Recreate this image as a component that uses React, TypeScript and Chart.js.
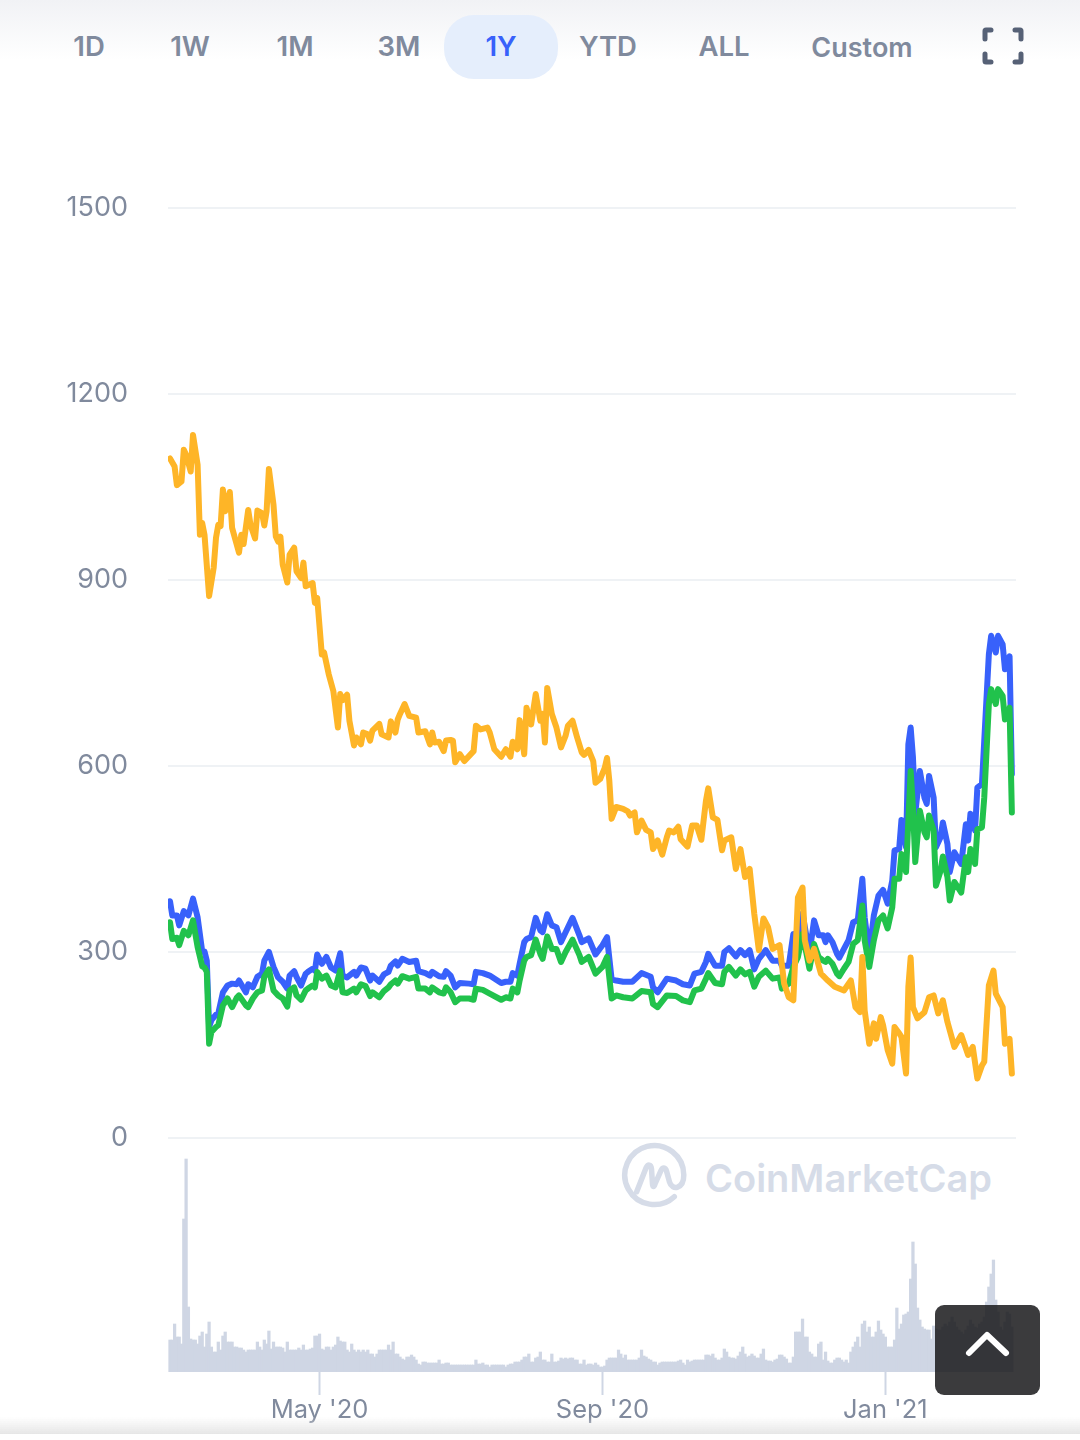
import React, { useEffect, useRef } from "react";
import { Chart, registerables } from "chart.js";

Chart.register(...registerables);

const rangeTabs = ["1D", "1W", "1M", "3M", "1Y", "YTD", "ALL", "Custom"];
const activeTab = "1Y";
const priceTicks = [0, 300, 600, 900, 1200, 1500];
const monthTickDays = [65, 188, 311];
const monthTickLabels = ["May '20", "Sep '20", "Jan '21"];

// Days since the start of the one-year window.
const orangeDays = [0,2,3,5,6,7,9,10,12,13,14,15,17,19,20,21,22,23,24,26,27,30,31,32,34,35,37,38,40,41,42,43,45,46,47,48,49,51,52,54,55,57,58,59,62,63,64,66,67,69,71,73,74,75,77,78,80,81,83,84,86,87,88,91,92,95,96,98,99,100,102,104,107,108,111,113,114,115,117,119,120,122,123,124,126,128,132,133,135,138,139,141,144,146,148,149,151,152,154,155,157,159,161,162,163,164,166,168,170,172,173,175,177,179,180,182,184,185,187,189,190,191,192,194,197,199,200,202,203,205,207,209,210,212,214,216,217,219,221,222,225,227,229,231,233,234,236,238,240,241,244,246,248,250,252,254,256,258,260,262,265,267,269,271,273,275,276,278,280,283,286,289,293,296,298,300,301,302,304,306,307,309,310,312,314,315,317,318,320,321,322,323,325,328,330,332,334,336,338,341,344,347,349,351,353,354,356,358,359,362,363,365,366];
const orangeValues = [1096,1083,1053,1059,1110,1102,1075,1134,1086,973,992,973,874,920,968,989,987,1046,1011,1042,984,944,973,958,1013,989,967,1012,1008,988,1011,1079,1021,970,962,970,925,896,941,952,914,903,928,890,895,863,871,780,783,748,721,662,716,706,715,673,633,646,635,654,651,641,657,668,651,646,672,654,675,684,700,681,678,654,656,635,654,638,639,624,641,642,641,606,619,608,624,665,659,662,654,627,615,627,615,639,627,674,619,694,667,716,673,684,638,726,684,662,630,649,665,673,646,622,618,626,608,573,579,597,613,576,515,534,531,527,520,525,493,512,497,493,466,480,457,485,496,493,502,482,470,504,504,481,544,564,517,513,464,480,485,434,466,421,434,362,303,354,340,305,311,249,227,222,388,404,319,286,305,265,254,244,238,254,211,203,292,206,152,185,160,195,182,142,120,179,169,163,104,244,291,211,193,203,227,230,201,222,187,147,166,134,147,96,117,123,246,270,233,211,152,160,104];

const pairDays = [0,1,3,4,6,8,10,12,14,15,16,17,18,20,21,23,25,27,29,30,33,34,36,38,40,41,43,45,47,49,51,52,54,55,57,59,60,62,63,64,66,68,70,72,74,75,77,80,81,83,85,87,88,91,93,95,96,98,99,101,104,107,108,111,113,114,117,119,120,122,124,126,130,132,133,136,139,144,146,148,149,151,152,154,155,157,159,161,162,164,166,168,170,172,175,178,179,182,185,188,190,192,194,197,201,205,209,210,212,216,220,223,226,228,231,233,234,237,240,241,243,246,248,250,252,254,256,259,262,265,266,269,271,273,275,278,280,282,284,285,286,288,290,291,293,295,297,299,301,302,304,306,308,310,312,314,315,317,318,320,321,322,323,324,326,328,329,330,332,333,335,336,338,339,341,344,346,347,348,350,351,353,354,356,357,359,360,362,363,365,366];
const blueValues = [382,359,359,343,366,359,386,356,301,301,286,179,190,199,201,235,246,249,248,254,235,248,243,260,265,286,300,276,259,252,241,262,269,260,246,265,268,273,270,296,281,292,275,270,298,262,259,268,262,275,273,254,262,252,264,268,278,285,278,289,284,286,269,266,262,268,261,260,269,262,243,250,249,248,268,266,262,250,252,252,266,262,281,316,321,324,355,335,332,361,343,340,316,332,355,327,316,322,296,311,324,256,254,252,252,266,260,243,235,257,254,248,246,265,268,284,297,278,278,300,306,293,303,295,303,272,289,303,286,286,278,278,329,297,362,297,351,327,327,316,327,316,297,291,305,319,348,351,418,356,297,359,391,400,378,415,464,466,513,469,635,662,614,523,592,549,539,584,549,469,485,509,474,429,461,442,506,480,523,496,565,571,641,780,810,783,810,796,756,777,587];
const greenValues = [348,321,323,311,334,327,351,308,277,275,268,152,171,179,182,214,225,211,226,230,214,211,225,235,238,260,272,238,230,225,212,238,243,230,223,238,241,246,243,268,257,262,246,243,270,235,234,241,235,248,245,229,235,227,237,243,248,254,249,261,257,260,241,241,235,243,235,233,243,235,219,225,225,223,241,239,233,223,227,225,241,235,254,286,292,295,320,297,289,325,305,305,284,300,320,295,284,292,265,276,292,225,230,227,225,237,235,216,211,230,229,222,219,238,241,257,266,250,248,268,276,262,272,264,268,244,260,270,257,259,241,249,276,292,329,273,313,292,286,284,289,281,265,261,273,284,313,319,375,319,276,319,351,359,338,372,418,418,458,429,512,592,533,445,528,493,485,520,496,407,431,454,421,383,413,396,453,429,466,442,498,501,549,700,724,700,724,713,675,694,525];

// One relative trading-volume bar per day.
const volumeValues = [32,32,48,35,35,28,153,213,65,33,32,32,28,36,40,25,38,50,25,20,20,30,22,36,40,30,30,30,25,25,24,24,22,20,22,22,22,22,30,25,22,32,28,41,23,30,25,25,25,24,20,30,22,22,22,22,24,22,27,22,22,23,24,36,36,38,23,22,25,25,22,25,27,35,31,30,30,22,20,28,22,20,22,20,22,20,22,18,18,15,18,22,22,22,22,27,22,30,18,18,15,13,12,15,15,17,15,12,8,7,10,10,9,9,9,9,9,12,8,8,9,9,7,7,7,7,7,7,7,7,7,7,7,12,8,8,9,7,7,5,7,7,7,7,7,7,5,7,8,8,10,10,10,12,15,15,18,10,10,14,15,20,12,12,10,10,18,10,10,11,14,13,14,13,14,14,12,12,8,8,12,7,8,8,7,9,7,5,5,6,12,14,14,14,14,22,18,14,17,12,12,12,12,12,14,22,16,15,13,12,10,10,7,9,10,10,10,10,10,10,10,11,12,9,7,12,10,11,12,12,12,12,12,17,17,16,18,14,12,12,14,23,20,15,14,14,13,16,20,25,18,15,16,18,16,14,14,18,23,12,11,11,10,12,13,17,17,15,13,9,9,15,40,40,40,53,35,35,20,18,15,15,28,30,12,20,11,9,9,12,14,14,12,10,12,9,20,25,30,35,25,48,51,40,45,35,35,40,51,42,38,35,25,25,25,32,64,43,48,57,58,60,93,130,108,64,52,45,43,42,42,33,46,43,42,42,45,48,46,50,55,50,45,42,40,38,42,46,52,48,45,44,48,50,55,70,85,98,112,72,60,45,42,50,60,58,45];

const series = (days: number[], values: number[]) => days.map((x, i) => ({ x, y: values[i] }));

export default function App() {
  const canvasRef = useRef<HTMLCanvasElement>(null);

  useEffect(() => {
    const lineStyle = {
      type: "line" as const,
      yAxisID: "y",
      borderWidth: 6,
      pointRadius: 0,
      tension: 0,
      borderJoinStyle: "round" as const,
      borderCapStyle: "round" as const,
      fill: false,
    };
    const chart = new Chart(canvasRef.current!, {
      type: "bar",
      data: {
        datasets: [
          { ...lineStyle, label: "Orange", data: series(orangeDays, orangeValues), borderColor: "#feb527" },
          { ...lineStyle, label: "Green", data: series(pairDays, greenValues), borderColor: "#21c24c" },
          { ...lineStyle, label: "Blue", data: series(pairDays, blueValues), borderColor: "#3861fb" },
          {
            type: "bar" as const,
            label: "Volume",
            yAxisID: "yVolume",
            data: volumeValues.map((y, x) => ({ x, y })),
            backgroundColor: "#cfd6e4",
            barThickness: 2.6,
            borderWidth: 0,
          },
        ],
      },
      options: {
        animation: false,
        responsive: false,
        maintainAspectRatio: false,
        devicePixelRatio: 1,
        layout: { padding: { top: 208, right: 64, bottom: 0, left: 0 } },
        plugins: { legend: { display: false }, tooltip: { enabled: false } },
        scales: {
          x: {
            type: "linear",
            offset: false,
            min: -0.87,
            max: 367.8,
            afterBuildTicks: (s: any) => {
              s.ticks = monthTickDays.map((value) => ({ value }));
            },
            afterFit: (s: any) => {
              s.height = 68;
            },
            grid: {
              offset: false,
              drawOnChartArea: false,
              drawTicks: true,
              tickLength: 23,
              tickColor: "#cfd6e4",
              tickWidth: 2,
            },
            border: { display: false },
            ticks: {
              autoSkip: false,
              maxRotation: 0,
              padding: 0,
              color: "#808a9d",
              font: { family: "Inter", size: 25.5 },
              callback: (v: any) => monthTickLabels[monthTickDays.indexOf(Number(v))] ?? "",
            },
          },
          y: {
            type: "linear",
            min: -377.4,
            max: 1500,
            afterBuildTicks: (s: any) => {
              s.ticks = priceTicks.map((value) => ({ value }));
            },
            afterFit: (s: any) => {
              s.width = 168;
            },
            grid: { color: "#eff2f5", lineWidth: 2, drawTicks: false },
            border: { display: false },
            ticks: {
              padding: 40,
              color: "#808a9d",
              font: { family: "Inter", size: 27 },
              callback: (v: any) => String(v),
            },
          },
          yVolume: {
            type: "linear",
            display: false,
            min: 0,
            max: 1164,
          },
        },
      },
    } as any);
    return () => chart.destroy();
  }, []);

  const tabCenters = [89, 190, 295, 399, 501, 608, 724, 862];

  return (
    <div style={{ position: "absolute", left: 0, top: 0, width: 1080, height: 1440, overflow: "hidden", background: "#fff", fontFamily: "Inter" }}>
      <div style={{ position: "absolute", left: 0, top: 0, width: 1080, height: 60, background: "linear-gradient(#f1f2f5, #ffffff)" }} />
      <div style={{ position: "absolute", left: 444, top: 15, width: 114, height: 64, borderRadius: 30, background: "#e5eefc" }} />
      {rangeTabs.map((t, i) => (
        <div
          key={t}
          style={{
            position: "absolute",
            left: tabCenters[i] - 80,
            width: 160,
            top: t === "Custom" ? 31 : 29,
            textAlign: "center",
            fontSize: t === "Custom" ? 27 : 27.5,
            lineHeight: "34px",
            fontWeight: 600,
            color: t === activeTab ? "#3861fb" : "#808a9d",
          }}
        >
          {t}
        </div>
      ))}
      <svg style={{ position: "absolute", left: 975, top: 20 }} width="56" height="52" viewBox="0 0 56 52" fill="none" stroke="#566176" strokeWidth="5" strokeLinecap="round" strokeLinejoin="round">
        <path d="M10 19 V11 Q10 10 11 10 H16" />
        <path d="M40 10 H45 Q46 10 46 11 V19" />
        <path d="M10 34 V41 Q10 42 11 42 H16" />
        <path d="M40 42 H45 Q46 42 46 41 V34" />
      </svg>
      <svg style={{ position: "absolute", left: 620, top: 1142 }} width="70" height="70" viewBox="0 0 70 70" fill="none" stroke="#d6dce8" strokeWidth="5.5" strokeLinecap="round" strokeLinejoin="round">
        <path d="M54.3 54.7 A29.5 29.5 0 1 1 63.8 33 C63.8 47 52 49 49.5 40 L46.5 29 C45.5 25 42.5 25 41 28.5 L35 42 C34 45.5 32.7 45 32.5 42 L31.5 27 C31 22 28 22 26 26 L16.7 49.7" />
      </svg>
      <div style={{ position: "absolute", left: 705, top: 1154, fontSize: 38, lineHeight: "48px", fontWeight: 600, color: "#d6dce8", whiteSpace: "nowrap" }}>CoinMarketCap</div>
      <canvas ref={canvasRef} width={1080} height={1440} style={{ position: "absolute", left: 0, top: 0, width: 1080, height: 1440 }} />
      <div style={{ position: "absolute", left: 935, top: 1305, width: 105, height: 90, borderRadius: 9, background: "rgba(25,25,27,0.85)" }} />
      <svg style={{ position: "absolute", left: 960, top: 1325 }} width="56" height="36" viewBox="0 0 56 36" fill="none" stroke="#fff" strokeWidth="6" strokeLinecap="round" strokeLinejoin="round">
        <path d="M9 28 L27 10 L46 28" />
      </svg>
      <div style={{ position: "absolute", left: 0, top: 1417, width: 1080, height: 17, background: "linear-gradient(rgba(235,235,235,0), #e6e6e6)" }} />
    </div>
  );
}
